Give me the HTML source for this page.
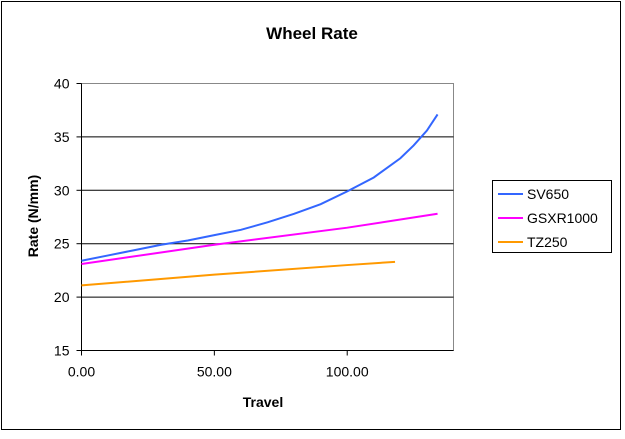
<!DOCTYPE html>
<html><head><meta charset="utf-8"><style>
body{margin:0;background:#fff;font-family:"Liberation Sans",Arial,sans-serif}
svg text{font-family:"Liberation Sans",Arial,sans-serif}
</style></head><body>
<svg id="c" width="625" height="434" xmlns="http://www.w3.org/2000/svg">
<rect x="1.5" y="1.5" width="619" height="428" fill="#fff" stroke="#000" stroke-width="1"/>
<text x="312" y="39" text-anchor="middle" font-size="17" font-weight="bold">Wheel Rate</text>
<rect x="81.5" y="83.5" width="372" height="267" fill="#fff" stroke="#888"/>
<g id="grid"></g><g id="axes"></g><g id="series"></g>
<text x="263" y="407" text-anchor="middle" font-size="14" font-weight="bold">Travel</text>
<text transform="translate(38,216) rotate(-90)" text-anchor="middle" font-size="14" font-weight="bold">Rate (N/mm)</text>
<g>
<rect x="492.5" y="180.5" width="119" height="72" fill="#fff" stroke="#000"/>
<line x1="498" y1="194" x2="523" y2="194" stroke="#3366ff" stroke-width="2"/>
<text x="527" y="199" font-size="14">SV650</text>
<line x1="498" y1="218" x2="523" y2="218" stroke="#ff00ff" stroke-width="2"/>
<text x="527" y="223" font-size="14">GSXR1000</text>
<line x1="498" y1="242" x2="523" y2="242" stroke="#ff9900" stroke-width="2"/>
<text x="527" y="247" font-size="14">TZ250</text>
</g>
</svg>
<script>
const yTicks=[15,20,25,30,35,40];
const xTicks=[0,50,100];
const svX=[0,10,20,30,40,50,60,70,80,90,100,110,120,125,130,134];
const svY=[23.4,23.9,24.4,24.9,25.3,25.8,26.3,27.0,27.8,28.7,29.9,31.2,33.0,34.2,35.6,37.1];
const gsX=[0,50,100,134];
const gsY=[23.1,24.9,26.5,27.8];
const tzX=[0,50,100,118];
const tzY=[21.1,22.1,23.0,23.3];
const NS='http://www.w3.org/2000/svg';
const X0=81.5,X1=453.5,Y0=350.5,Y1=83.5,xMax=140,yMin=15,yMax=40;
const sx=v=>X0+(v/xMax)*(X1-X0);
const sy=v=>Y0-(v-yMin)/(yMax-yMin)*(Y0-Y1);
const grid=document.getElementById('grid'),axes=document.getElementById('axes'),ser=document.getElementById('series');
function mk(t,a,p){const e=document.createElementNS(NS,t);for(const k in a)e.setAttribute(k,a[k]);p.appendChild(e);return e;}
yTicks.forEach(v=>{
  if(v>yMin&&v<yMax){const g=mk('line',{x1:X0,x2:X1,y1:sy(v),y2:sy(v),stroke:'#000'},grid);
  
  }
  mk('line',{x1:X0-5,x2:X0,y1:sy(v),y2:sy(v),stroke:'#000'},axes);
  const t=mk('text',{x:X0-12,y:sy(v)+5,'text-anchor':'end','font-size':'14'},axes);t.textContent=v;
  
  
});
xTicks.forEach(v=>{
  mk('line',{x1:sx(v),x2:sx(v),y1:Y0,y2:Y0+5,stroke:'#000'},axes);
  const t=mk('text',{x:sx(v),y:Y0+26,'text-anchor':'middle','font-size':'14'},axes);t.textContent=v.toFixed(2);
  
  
});
mk('line',{x1:X0,x2:X0,y1:Y1,y2:Y0,stroke:'#000'},axes);
mk('line',{x1:X0,x2:X1,y1:Y0,y2:Y0,stroke:'#000'},axes);
function line(xs,ys,c,n){const p=mk('polyline',{points:xs.map((x,i)=>sx(x)+','+sy(ys[i])).join(' '),fill:'none',stroke:c,'stroke-width':2},ser);
  
  }
line(tzX,tzY,'#ff9900','series-tz250');
line(gsX,gsY,'#ff00ff','series-gsxr1000');
line(svX,svY,'#3366ff','series-sv650');
</script>
</body></html>
